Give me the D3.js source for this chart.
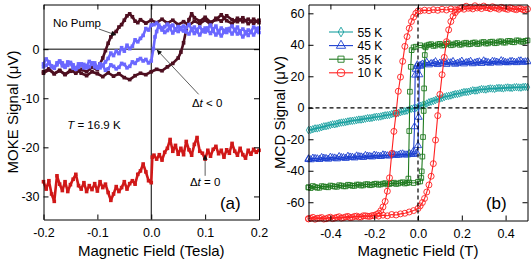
<!DOCTYPE html>
<html>
<head>
<meta charset="utf-8">
<script src="https://cdn.jsdelivr.net/npm/d3@7"></script>
<style>
	body { margin: 0; background: #fff; }
	svg { display: block; }
	text { font-family: "Liberation Sans", Arial, sans-serif; }
</style>
</head>
<body>
<div id="chart-area"></div>
<script>

/* -------------- DATA -------------- */

// Panel (a): MOKE signal (uV) vs field (T), T = 16.9 K
let noPumpUp = [[-0.20,-4.6],[-0.19,-4.0],[-0.18,-5.0],[-0.17,-4.3],[-0.16,-5.2],[-0.15,-4.5],[-0.14,-4.0],[-0.13,-4.9],[-0.12,-5.4],[-0.11,-4.6],[-0.10,-5.0],[-0.09,-5.6],[-0.08,-4.8],[-0.07,-5.5],[-0.06,-5.0],[-0.05,-5.8],[-0.04,-6.2],[-0.03,-5.4],[-0.02,-4.9],[-0.01,-5.2],[0.00,-4.6],[0.01,-4.1],[0.02,-4.4],[0.03,-3.6],[0.04,-2.9],[0.05,-1.8],[0.055,-0.6],[0.06,1.3],[0.065,4.0],[0.07,6.0],[0.075,7.2],[0.08,6.4],[0.09,5.7],[0.10,6.5],[0.11,5.5],[0.12,6.0],[0.13,7.0],[0.14,5.8],[0.15,5.2],[0.16,6.3],[0.17,5.6],[0.18,6.1],[0.19,5.3],[0.20,5.9]];

let noPumpDown = [[0.20,5.4],[0.19,6.1],[0.18,5.2],[0.17,6.4],[0.16,5.6],[0.15,6.0],[0.14,6.8],[0.13,5.7],[0.12,6.3],[0.11,5.1],[0.10,5.9],[0.09,5.2],[0.08,5.7],[0.07,4.9],[0.06,5.6],[0.05,5.0],[0.04,5.9],[0.03,5.3],[0.02,6.1],[0.01,5.4],[0.00,5.9],[-0.01,5.3],[-0.02,6.0],[-0.025,5.4],[-0.03,5.7],[-0.035,6.6],[-0.04,7.2],[-0.045,6.8],[-0.05,5.9],[-0.055,5.0],[-0.06,4.5],[-0.065,3.6],[-0.07,3.2],[-0.075,2.5],[-0.08,1.2],[-0.085,-0.3],[-0.09,-1.8],[-0.095,-3.0],[-0.10,-4.2],[-0.11,-3.7],[-0.12,-4.6],[-0.13,-4.1],[-0.14,-4.9],[-0.15,-4.3],[-0.16,-5.1],[-0.17,-4.4],[-0.18,-5.0],[-0.19,-4.2],[-0.20,-4.9]];

let beforeUp = [[-0.200,-3.0],[-0.195,-2.0],[-0.190,-2.6],[-0.185,-3.6],[-0.180,-3.9],[-0.175,-2.8],[-0.170,-2.4],[-0.165,-3.4],[-0.160,-3.7],[-0.155,-2.6],[-0.150,-2.9],[-0.145,-3.9],[-0.140,-4.1],[-0.135,-3.0],[-0.130,-3.2],[-0.125,-3.8],[-0.120,-3.4],[-0.115,-2.5],[-0.110,-2.8],[-0.105,-3.6],[-0.100,-3.9],[-0.095,-3.0],[-0.090,-3.3],[-0.085,-4.3],[-0.080,-4.0],[-0.075,-3.2],[-0.070,-3.5],[-0.065,-4.0],[-0.060,-3.7],[-0.055,-2.9],[-0.050,-3.1],[-0.045,-3.8],[-0.040,-3.5],[-0.035,-2.6],[-0.030,-2.9],[-0.025,-2.2],[-0.020,-1.9],[-0.015,-2.4],[-0.010,-2.1],[-0.005,-2.8],[0.000,-2.4],[0.004,0.1],[0.007,2.5],[0.010,3.6],[0.014,4.9],[0.020,4.3],[0.025,3.4],[0.030,3.8],[0.035,4.7],[0.040,4.9],[0.045,3.9],[0.050,3.6],[0.055,4.4],[0.060,4.7],[0.065,3.5],[0.070,3.1],[0.075,4.0],[0.080,4.5],[0.085,3.6],[0.090,2.9],[0.095,3.7],[0.100,4.3],[0.105,3.8],[0.110,3.2],[0.115,4.1],[0.120,4.7],[0.125,3.4],[0.130,2.7],[0.135,3.5],[0.140,4.1],[0.145,3.8],[0.150,3.1],[0.155,3.9],[0.160,4.5],[0.165,3.3],[0.170,2.5],[0.175,3.2],[0.180,3.9],[0.185,3.5],[0.190,2.9],[0.195,3.7],[0.200,4.3]];

let beforeDown = [[0.200,3.4],[0.195,4.2],[0.190,4.5],[0.185,3.6],[0.180,2.8],[0.175,3.5],[0.170,4.1],[0.165,3.7],[0.160,3.1],[0.155,3.9],[0.150,4.7],[0.145,4.2],[0.140,3.4],[0.135,3.8],[0.130,4.3],[0.125,3.6],[0.120,2.9],[0.115,3.7],[0.110,4.9],[0.105,4.3],[0.100,3.5],[0.095,3.9],[0.090,4.5],[0.085,4.0],[0.080,3.2],[0.075,4.1],[0.070,5.0],[0.065,4.4],[0.060,3.7],[0.055,4.0],[0.050,4.6],[0.045,4.1],[0.040,3.3],[0.035,4.2],[0.030,5.1],[0.025,4.6],[0.020,3.9],[0.015,4.5],[0.010,5.3],[0.005,5.0],[0.000,4.9],[-0.005,3.9],[-0.010,4.2],[-0.015,2.8],[-0.020,2.2],[-0.025,1.5],[-0.030,1.9],[-0.035,0.6],[-0.040,0.1],[-0.045,0.8],[-0.050,-0.4],[-0.055,0.3],[-0.060,-0.9],[-0.065,-0.4],[-0.070,-1.3],[-0.075,-0.8],[-0.080,-1.9],[-0.085,-2.6],[-0.090,-3.3],[-0.095,-3.8],[-0.100,-3.6],[-0.105,-2.8],[-0.110,-2.9],[-0.115,-3.6],[-0.120,-3.8],[-0.125,-3.1],[-0.130,-3.0],[-0.135,-3.7],[-0.140,-3.9],[-0.145,-3.2],[-0.150,-2.7],[-0.155,-3.3],[-0.160,-3.5],[-0.165,-2.8],[-0.170,-2.5],[-0.175,-3.2],[-0.180,-3.7],[-0.185,-3.4],[-0.190,-2.9],[-0.195,-3.3],[-0.200,-3.6]];

let zeroDelay = [[-0.200,-27.0],[-0.195,-28.5],[-0.190,-26.8],[-0.185,-29.5],[-0.180,-31.0],[-0.175,-25.8],[-0.170,-27.5],[-0.165,-28.8],[-0.160,-27.0],[-0.155,-29.0],[-0.150,-27.6],[-0.145,-26.5],[-0.140,-25.5],[-0.135,-27.8],[-0.130,-28.5],[-0.125,-27.2],[-0.120,-29.0],[-0.115,-27.8],[-0.110,-28.6],[-0.105,-27.4],[-0.100,-28.9],[-0.095,-27.0],[-0.090,-28.2],[-0.085,-27.5],[-0.080,-29.2],[-0.075,-30.8],[-0.070,-29.5],[-0.065,-28.0],[-0.060,-29.0],[-0.055,-28.2],[-0.050,-27.0],[-0.045,-28.5],[-0.040,-27.4],[-0.035,-26.8],[-0.030,-27.5],[-0.025,-25.5],[-0.020,-24.8],[-0.015,-23.4],[-0.010,-25.0],[-0.005,-26.8],[0.000,-27.2],[0.002,-22.0],[0.005,-21.6],[0.010,-22.4],[0.015,-21.5],[0.020,-22.6],[0.025,-21.0],[0.030,-20.2],[0.035,-18.4],[0.040,-20.8],[0.045,-19.6],[0.050,-21.4],[0.055,-20.2],[0.060,-21.5],[0.065,-18.8],[0.070,-20.5],[0.075,-21.6],[0.080,-19.4],[0.085,-18.0],[0.090,-20.8],[0.095,-21.2],[0.100,-22.4],[0.105,-20.6],[0.110,-21.8],[0.115,-20.4],[0.120,-19.8],[0.125,-21.3],[0.130,-20.6],[0.135,-22.0],[0.140,-20.5],[0.145,-21.2],[0.150,-19.2],[0.155,-20.8],[0.160,-21.6],[0.165,-20.2],[0.170,-21.5],[0.175,-22.2],[0.180,-20.6],[0.185,-21.4],[0.190,-20.4],[0.195,-21.0],[0.200,-20.6]];

let mokeXTicks = [-0.2, -0.1, 0.0, 0.1, 0.2];
let mokeYTicks = [0, -10, -20, -30];

// Panel (b): MCD signal (uV) vs field (T)
let mcdLabels = ["55 K", "45 K", "35 K", "10 K"];

let mcd55Up = [[-0.50,-14.2],[-0.48,-13.6],[-0.46,-13.1],[-0.44,-12.3],[-0.42,-11.7],[-0.40,-10.9],[-0.38,-10.5],[-0.36,-9.7],[-0.34,-9.3],[-0.32,-8.7],[-0.30,-8.3],[-0.28,-7.8],[-0.26,-7.5],[-0.24,-6.9],[-0.22,-6.6],[-0.20,-6.0],[-0.18,-5.7],[-0.16,-5.1],[-0.14,-4.7],[-0.12,-4.0],[-0.10,-3.6],[-0.08,-2.8],[-0.06,-2.1],[-0.04,-1.2],[-0.02,-0.4],[0.00,0.6],[0.02,1.6],[0.04,2.7],[0.06,3.9],[0.08,4.9],[0.10,5.9],[0.12,6.8],[0.14,7.5],[0.16,8.3],[0.18,8.8],[0.20,9.6],[0.22,10.0],[0.24,10.6],[0.26,10.9],[0.28,11.5],[0.30,11.7],[0.32,12.1],[0.34,12.2],[0.36,12.5],[0.38,12.5],[0.40,12.8],[0.42,12.7],[0.44,13.0],[0.46,12.9],[0.48,13.2],[0.50,13.1]];

let mcd55Down = [[0.49,13.3],[0.47,12.8],[0.45,13.1],[0.43,12.6],[0.41,12.9],[0.39,12.3],[0.37,12.6],[0.35,12.0],[0.33,12.3],[0.31,11.6],[0.29,11.9],[0.27,11.0],[0.25,11.1],[0.23,10.2],[0.21,10.0],[0.19,9.1],[0.17,8.7],[0.15,7.8],[0.13,7.3],[0.11,6.2],[0.09,5.6],[0.07,4.3],[0.05,3.5],[0.03,2.0],[0.01,1.3],[-0.01,-0.1],[-0.03,-0.6],[-0.05,-1.8],[-0.07,-2.3],[-0.09,-3.3],[-0.11,-3.6],[-0.13,-4.5],[-0.15,-4.8],[-0.17,-5.5],[-0.19,-5.7],[-0.21,-6.4],[-0.23,-6.6],[-0.25,-7.3],[-0.27,-7.5],[-0.29,-8.1],[-0.31,-8.4],[-0.33,-9.0],[-0.35,-9.4],[-0.37,-10.1],[-0.39,-10.5],[-0.41,-11.3],[-0.43,-11.8],[-0.45,-12.7],[-0.47,-13.1],[-0.49,-14.0]];

let mcd45Up = [[-0.50,-32.8],[-0.48,-32.0],[-0.46,-32.4],[-0.44,-31.6],[-0.42,-32.2],[-0.40,-31.4],[-0.38,-31.9],[-0.36,-31.0],[-0.34,-31.7],[-0.32,-30.8],[-0.30,-31.4],[-0.28,-30.6],[-0.26,-31.2],[-0.24,-30.3],[-0.22,-30.9],[-0.20,-30.1],[-0.18,-30.7],[-0.16,-29.9],[-0.14,-30.5],[-0.12,-29.6],[-0.10,-30.2],[-0.08,-29.4],[-0.06,-29.9],[-0.04,-29.1],[-0.02,-29.6],[-0.005,-28.8],[0.000,-24.0],[0.003,-6.0],[0.006,21.0],[0.010,26.4],[0.02,27.8],[0.04,28.9],[0.06,28.1],[0.08,29.3],[0.10,28.4],[0.12,29.5],[0.14,28.6],[0.16,29.4],[0.18,28.3],[0.20,29.6],[0.22,28.7],[0.24,29.5],[0.26,28.5],[0.28,29.2],[0.30,29.8],[0.32,28.8],[0.34,29.5],[0.36,29.0],[0.38,29.9],[0.40,28.8],[0.42,29.4],[0.44,29.0],[0.46,29.7],[0.48,28.9],[0.50,29.3]];

let mcd45Down = [[0.49,29.2],[0.47,29.8],[0.45,28.7],[0.43,29.5],[0.41,28.6],[0.39,29.4],[0.37,28.5],[0.35,29.3],[0.33,28.3],[0.31,29.1],[0.29,28.2],[0.27,29.0],[0.25,28.0],[0.23,28.9],[0.21,27.9],[0.19,28.7],[0.17,27.7],[0.15,28.6],[0.13,27.6],[0.11,28.4],[0.09,27.5],[0.07,28.2],[0.05,27.3],[0.03,28.0],[0.01,27.0],[-0.003,27.3],[-0.006,26.2],[-0.010,24.5],[-0.013,20.8],[-0.016,-12.0],[-0.020,-27.5],[-0.03,-29.4],[-0.05,-29.9],[-0.07,-29.3],[-0.09,-30.1],[-0.11,-29.7],[-0.13,-30.5],[-0.15,-30.1],[-0.17,-30.9],[-0.19,-30.4],[-0.21,-31.2],[-0.23,-30.7],[-0.25,-31.5],[-0.27,-31.0],[-0.29,-31.8],[-0.31,-31.3],[-0.33,-32.1],[-0.35,-31.6],[-0.37,-32.4],[-0.39,-31.8],[-0.41,-32.6],[-0.43,-32.0],[-0.45,-32.8],[-0.47,-32.2],[-0.49,-33.0],[-0.50,-32.4]];

let mcd35Up = [[-0.50,-50.6],[-0.48,-49.7],[-0.46,-50.8],[-0.44,-49.8],[-0.42,-50.3],[-0.40,-49.4],[-0.38,-50.1],[-0.36,-49.2],[-0.34,-49.9],[-0.32,-48.9],[-0.30,-49.6],[-0.28,-48.8],[-0.26,-49.4],[-0.24,-48.6],[-0.22,-49.2],[-0.20,-48.4],[-0.18,-48.9],[-0.16,-48.2],[-0.14,-48.7],[-0.12,-47.9],[-0.10,-48.4],[-0.08,-47.6],[-0.06,-48.1],[-0.04,-47.4],[-0.02,-47.8],[0.00,-47.0],[0.010,-46.8],[0.015,-44.6],[0.017,-40.4],[0.020,-31.0],[0.023,-18.6],[0.026,-2.0],[0.028,12.3],[0.031,33.5],[0.035,38.4],[0.04,39.6],[0.06,40.4],[0.08,39.5],[0.10,40.6],[0.12,39.8],[0.14,40.9],[0.16,40.0],[0.18,41.1],[0.20,40.2],[0.22,41.3],[0.24,40.5],[0.26,41.5],[0.28,40.7],[0.30,41.8],[0.32,40.9],[0.34,42.0],[0.36,41.2],[0.38,42.2],[0.40,41.4],[0.42,42.5],[0.44,41.6],[0.46,42.7],[0.48,41.9],[0.50,42.8]];

let mcd35Down = [[0.49,42.5],[0.47,42.0],[0.45,42.8],[0.43,41.7],[0.41,42.4],[0.39,41.4],[0.37,42.1],[0.35,41.0],[0.33,41.8],[0.31,40.8],[0.29,41.5],[0.27,40.5],[0.25,41.3],[0.23,40.3],[0.21,41.0],[0.19,40.0],[0.17,40.8],[0.15,39.7],[0.13,40.6],[0.11,39.5],[0.09,40.3],[0.07,39.3],[0.05,40.1],[0.03,39.0],[0.01,39.7],[-0.01,38.8],[-0.02,38.4],[-0.029,36.6],[-0.033,26.0],[-0.037,10.2],[-0.040,-14.8],[-0.044,-45.0],[-0.05,-47.8],[-0.07,-47.3],[-0.09,-48.1],[-0.11,-47.6],[-0.13,-48.4],[-0.15,-47.9],[-0.17,-48.7],[-0.19,-48.2],[-0.21,-49.0],[-0.23,-48.5],[-0.25,-49.3],[-0.27,-48.8],[-0.29,-49.6],[-0.31,-49.1],[-0.33,-49.9],[-0.35,-49.4],[-0.37,-50.2],[-0.39,-49.7],[-0.41,-50.5],[-0.43,-50.0],[-0.45,-50.8],[-0.47,-50.3],[-0.49,-51.0],[-0.50,-50.5]];

let mcd10Up = [[-0.50,-70.4],[-0.48,-69.6],[-0.46,-70.2],[-0.44,-69.7],[-0.42,-70.5],[-0.40,-69.5],[-0.38,-70.0],[-0.36,-69.2],[-0.34,-69.8],[-0.32,-69.0],[-0.30,-69.6],[-0.28,-68.8],[-0.26,-69.4],[-0.24,-68.6],[-0.22,-69.0],[-0.20,-68.4],[-0.18,-68.8],[-0.16,-68.2],[-0.14,-68.6],[-0.12,-67.8],[-0.10,-68.1],[-0.08,-67.4],[-0.06,-67.0],[-0.04,-66.2],[-0.02,-65.3],[0.00,-64.0],[0.01,-62.3],[0.02,-60.2],[0.03,-57.6],[0.04,-53.5],[0.05,-49.0],[0.06,-43.5],[0.07,-35.5],[0.08,-20.5],[0.09,-5.0],[0.10,8.5],[0.11,21.0],[0.12,32.0],[0.13,42.0],[0.14,49.5],[0.15,54.8],[0.16,58.2],[0.17,60.4],[0.18,62.0],[0.20,63.6],[0.22,64.5],[0.24,63.7],[0.26,64.8],[0.28,63.9],[0.30,64.6],[0.32,63.5],[0.34,64.2],[0.36,63.2],[0.38,63.8],[0.40,62.9],[0.42,63.5],[0.44,62.6],[0.46,63.1],[0.48,62.3],[0.50,62.7]];

let mcd10Down = [[0.49,62.1],[0.47,62.9],[0.45,62.3],[0.43,63.1],[0.41,62.5],[0.39,63.3],[0.37,62.6],[0.35,63.5],[0.33,62.9],[0.31,63.6],[0.29,63.0],[0.27,63.4],[0.25,62.8],[0.23,63.2],[0.21,62.6],[0.19,63.0],[0.17,62.3],[0.15,62.8],[0.13,62.1],[0.11,62.6],[0.09,61.9],[0.07,62.3],[0.05,61.7],[0.03,62.0],[0.01,61.5],[0.00,61.4],[-0.01,60.0],[-0.02,57.6],[-0.03,54.8],[-0.04,50.5],[-0.05,45.2],[-0.06,39.0],[-0.07,29.5],[-0.08,19.5],[-0.09,10.5],[-0.10,-3.5],[-0.11,-15.0],[-0.12,-29.0],[-0.13,-44.5],[-0.14,-53.0],[-0.15,-59.5],[-0.16,-63.0],[-0.17,-65.4],[-0.18,-67.0],[-0.19,-67.8],[-0.21,-68.5],[-0.23,-68.9],[-0.25,-68.6],[-0.27,-69.4],[-0.29,-69.0],[-0.31,-69.8],[-0.33,-69.3],[-0.35,-70.1],[-0.37,-69.6],[-0.39,-70.4],[-0.41,-69.9],[-0.43,-70.7],[-0.45,-70.1],[-0.47,-70.8],[-0.49,-70.2],[-0.50,-70.6]];

let mcdXTicks = [-0.4, -0.2, 0.0, 0.2, 0.4];
let mcdYTicks = [-60, -40, -20, 0, 20, 40, 60];

/* -------------- SETUP -------------- */

let fontFamily = '"Liberation Sans", Arial, sans-serif';

let svg = d3.select("#chart-area")
	.append("svg")
	.attr("width", 531)
	.attr("height", 264);

// Small arrow head for the annotation leaders
svg.append("defs").append("marker")
	.attr("id", "tip")
	.attr("viewBox", "0 0 10 10")
	.attr("refX", 9)
	.attr("refY", 5)
	.attr("markerUnits", "userSpaceOnUse")
	.attr("markerWidth", 6)
	.attr("markerHeight", 5)
	.attr("orient", "auto")
	.append("path")
	.attr("d", "M0,0L10,5L0,10z")
	.attr("fill", "#111");

// Box with inward ticks on all four sides
function drawFrame(g, x, y, xTicks, yTicks) {
	let [x0, x1] = x.range();
	let [y0, y1] = y.range();

	let axes = [
		{axis: d3.axisBottom(x).tickValues(xTicks).tickPadding(9).tickFormat(d => d.toFixed(1)), t: [0, y0]},
		{axis: d3.axisTop(x).tickValues(xTicks).tickFormat(""), t: [0, y1]},
		{axis: d3.axisLeft(y).tickValues(yTicks).tickPadding(4).tickFormat(d => String(d)), t: [x0, 0]},
		{axis: d3.axisRight(y).tickValues(yTicks).tickFormat(""), t: [x1, 0]}
	];

	axes.forEach(a => {
		g.append("g")
			.attr("class", "axis")
			.attr("transform", "translate(" + a.t[0] + "," + a.t[1] + ")")
			.call(a.axis.tickSize(-5).tickSizeOuter(0))
			.attr("font-family", fontFamily)
			.attr("font-size", 12.5)
			.call(s => s.selectAll("text").attr("fill", "#000"));
	});
}

function axisTitles(g, x, y, xTitle, yTitle, yTitleX) {
	let [x0, x1] = x.range();
	let [y0, y1] = y.range();

	g.append("text")
		.attr("x", (x0 + x1) / 2)
		.attr("y", 256)
		.attr("text-anchor", "middle")
		.attr("font-size", 15)
		.text(xTitle);

	g.append("text")
		.attr("transform", "translate(" + yTitleX + "," + ((y0 + y1) / 2) + ") rotate(-90)")
		.attr("text-anchor", "middle")
		.attr("font-size", 15)
		.text(yTitle);
}

// Text built from [string, italic] pieces
function note(g, px, py, parts, size, anchor) {
	let t = g.append("text")
		.attr("x", px)
		.attr("y", py)
		.attr("font-size", size)
		.attr("text-anchor", anchor || "start");
	parts.forEach(p => {
		t.append("tspan")
			.attr("font-style", p[1] ? "italic" : "normal")
			.text(p[0]);
	});
}

function leader(g, x1, y1, x2, y2) {
	g.append("line")
		.attr("x1", x1).attr("y1", y1)
		.attr("x2", x2).attr("y2", y2)
		.attr("stroke", "#333")
		.attr("stroke-width", 0.8)
		.attr("marker-end", "url(#tip)");
}

/* -------------- PANEL (a) -------------- */

let xA = d3.scaleLinear().domain([-0.2, 0.2]).range([43.5, 259]);
let yA = d3.scaleLinear().domain([-34.7, 9.1]).range([219.5, 4.5]);

let gA = svg.append("g").attr("class", "panel-a");

// Solid zero lines
gA.append("line")
	.attr("x1", xA(0)).attr("x2", xA(0))
	.attr("y1", yA.range()[0]).attr("y2", yA.range()[1])
	.attr("stroke", "#000");
gA.append("line")
	.attr("x1", xA.range()[0]).attr("x2", xA.range()[1])
	.attr("y1", yA(0)).attr("y2", yA(0))
	.attr("stroke", "#000");

let lineA = d3.line()
	.x(d => xA(d[0]))
	.y(d => yA(d[1]));

function mokeTrace(data, color) {
	let tg = gA.append("g");
	tg.append("path")
		.datum(data)
		.attr("d", lineA)
		.attr("fill", "none")
		.attr("stroke", color)
		.attr("stroke-width", 2.6)
		.attr("stroke-linejoin", "round");
	tg.selectAll("rect")
		.data(data)
		.enter()
		.append("rect")
		.attr("x", d => xA(d[0]) - 1.8)
		.attr("y", d => yA(d[1]) - 1.8)
		.attr("width", 3.6)
		.attr("height", 3.6)
		.attr("fill", color);
}

mokeTrace(zeroDelay, "#d01818");
mokeTrace(noPumpUp, "#4e0f20");
mokeTrace(noPumpDown, "#4e0f20");
mokeTrace(beforeUp, "#6b68ff");
mokeTrace(beforeDown, "#6b68ff");

drawFrame(gA, xA, yA, mokeXTicks, mokeYTicks);
axisTitles(gA, xA, yA, "Magnetic Field (Tesla)", "MOKE Signal (\u03bcV)", 17.5);

// Annotations
note(gA, xA(-0.1825), yA(4.5), [["No Pump", false]], 11.5);
leader(gA, xA(-0.097), yA(4.1), xA(-0.066), yA(2.9));

note(gA, xA(0.0755), yA(-11.75), [["\u0394", false], ["t", true], [" < 0", false]], 11.5);
leader(gA, xA(0.088), yA(-9.2), xA(0.011), yA(-0.2));

note(gA, xA(-0.156), yA(-16.2), [["T", true], [" = 16.9 K", false]], 11.5);

note(gA, xA(0.0718), yA(-27.8), [["\u0394", false], ["t", true], [" = 0", false]], 11.5);
leader(gA, xA(0.1), yA(-25.8), xA(0.1), yA(-21.6));

note(gA, xA(0.166), yA(-32.6), [["(a)", false]], 17, "end");

/* -------------- PANEL (b) -------------- */

let xB = d3.scaleLinear().domain([-0.5, 0.5]).range([308.5, 527.5]);
let yB = d3.scaleLinear().domain([-71.6, 65.6]).range([220.5, 4.5]);

let gB = svg.append("g").attr("class", "panel-b");

let mcdSeries = [
	{label: mcdLabels[0], color: "#1aa0a0", symbol: d3.symbolDiamond, size: 16, sweeps: [mcd55Up, mcd55Down]},
	{label: mcdLabels[1], color: "#1c3fd0", symbol: d3.symbolTriangle, size: 22, sweeps: [mcd45Up, mcd45Down]},
	{label: mcdLabels[2], color: "#1f7a1f", symbol: d3.symbolSquare, size: 22, sweeps: [mcd35Up, mcd35Down]},
	{label: mcdLabels[3], color: "#ff2020", symbol: d3.symbolCircle, size: 28, sweeps: [mcd10Up, mcd10Down]}
];

let lineB = d3.line()
	.x(d => xB(d[0]))
	.y(d => yB(d[1]));

mcdSeries.forEach(s => {
	let sg = gB.append("g");
	let sym = d3.symbol().type(s.symbol).size(s.size);
	s.sweeps.forEach(sweep => {
		sg.append("path")
			.datum(sweep)
			.attr("d", lineB)
			.attr("fill", "none")
			.attr("stroke", s.color)
			.attr("stroke-width", 1.1);
		sg.selectAll(null)
			.data(sweep)
			.enter()
			.append("path")
			.attr("d", sym)
			.attr("transform", d => "translate(" + xB(d[0]) + "," + yB(d[1]) + ")")
			.attr("fill", "none")
			.attr("stroke", s.color)
			.attr("stroke-width", 0.9);
	});
});

// Dashed zero lines on top of the loops
gB.append("line")
	.attr("x1", xB(0)).attr("x2", xB(0))
	.attr("y1", yB.range()[0]).attr("y2", yB.range()[1])
	.attr("stroke", "#000")
	.attr("stroke-width", 1.2)
	.attr("stroke-dasharray", "4,3");
gB.append("line")
	.attr("x1", xB.range()[0]).attr("x2", xB.range()[1])
	.attr("y1", yB(0)).attr("y2", yB(0))
	.attr("stroke", "#000")
	.attr("stroke-width", 1.2)
	.attr("stroke-dasharray", "4,3");

drawFrame(gB, xB, yB, mcdXTicks, mcdYTicks);
axisTitles(gB, xB, yB, "Magnetic Field (T)", "MCD Signal (\u03bcV)", 285);

// Legend
let legend = gB.append("g")
	.attr("transform", "translate(" + (xB.range()[0] + 20.5) + ",32)");

let rows = legend.selectAll("g")
	.data(mcdSeries)
	.enter()
	.append("g")
	.attr("transform", (d, i) => "translate(0," + (i * 13.6) + ")");

rows.append("line")
	.attr("x1", 0).attr("x2", 24)
	.attr("stroke", d => d.color)
	.attr("stroke-width", 1.1);

rows.append("path")
	.attr("d", d => d3.symbol().type(d.symbol).size(d.size * 1.7)())
	.attr("transform", "translate(12,0)")
	.attr("fill", "none")
	.attr("stroke", d => d.color)
	.attr("stroke-width", 0.9);

rows.append("text")
	.attr("x", 28.5)
	.attr("y", 4.5)
	.attr("font-size", 12)
	.text(d => d.label);

note(gB, xB(0.405), yB(-64.3), [["(b)", false]], 17, "end");

</script>
</body>
</html>
